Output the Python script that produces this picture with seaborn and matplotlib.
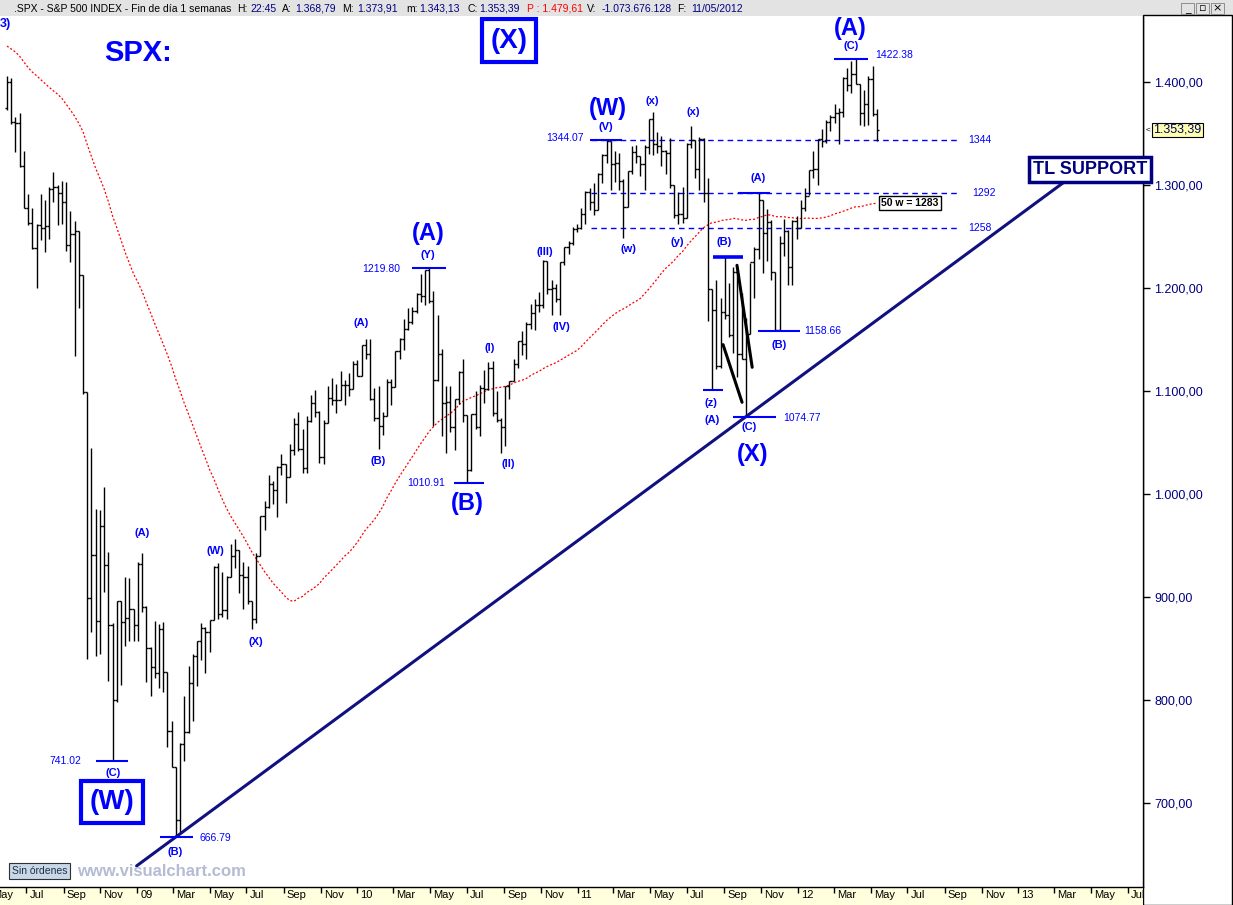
import numpy as np
import pandas as pd
import matplotlib
matplotlib.use("Agg")
import matplotlib.pyplot as plt
import matplotlib.transforms as mtransforms
from matplotlib.patches import Rectangle
import seaborn as sns

# --------------------------
# Data: weekly S&P 500 bars (week ending Friday), first bar = 2008-05-30
# --------------------------
first_week = "2008-05-30"

# 49 weekly closes before the first bar, only used for the 50-week average
pre_close = [1502.56, 1503.35, 1530.44, 1552.50, 1534.10, 1458.95, 1433.06, 1453.64,
             1445.94, 1479.37, 1473.99, 1453.55, 1484.25, 1525.75, 1526.75, 1557.59,
             1561.80, 1500.63, 1535.28, 1509.65, 1453.70, 1458.74, 1440.70, 1481.14,
             1504.66, 1467.95, 1484.46, 1478.49, 1411.63, 1401.02, 1325.19, 1330.61,
             1395.42, 1331.29, 1349.99, 1353.11, 1330.63, 1293.37, 1288.14, 1329.51,
             1315.22, 1370.40, 1332.83, 1390.33, 1397.84, 1413.90, 1388.28, 1425.35,
             1375.93]

opens = [
    # 2008
    1375, 1400, 1361, 1360, 1318, 1278, 1263, 1239, 1261, 1258, 1260, 1296, 1298, 1292, 1283, 1242,
    1252, 1255, 1213, 1099, 899, 941, 877, 969, 931, 873, 800, 896, 876, 880, 888,
    # 2009
    873, 932, 890, 850, 832, 826, 869, 827, 770, 735, 683, 757, 769, 816, 843, 857, 870, 866, 878,
    929, 883, 887, 919, 940, 946, 921, 919, 896, 879, 940, 979, 987, 1010, 1004, 1026, 1029, 1016,
    1043, 1068, 1044, 1025, 1071, 1088, 1080, 1036, 1069, 1093, 1091, 1091, 1106, 1106, 1102, 1126,
    # 2010
    1115, 1145, 1136, 1092, 1074, 1066, 1076, 1109, 1104, 1139, 1150, 1160, 1167, 1178, 1194, 1192,
    1217, 1187, 1111, 1136, 1088, 1089, 1065, 1092, 1118, 1077, 1023, 1078, 1065, 1103, 1102, 1122,
    1079, 1072, 1065, 1105, 1110, 1126, 1149, 1146, 1165, 1176, 1183, 1183, 1226, 1199, 1200, 1189,
    1225, 1240, 1244, 1257,
    # 2011
    1258, 1272, 1293, 1283, 1276, 1311, 1329, 1343, 1320, 1321, 1304, 1279, 1314, 1332, 1328, 1320,
    1337, 1364, 1340, 1338, 1333, 1331, 1300, 1271, 1272, 1268, 1340, 1344, 1316, 1345, 1292, 1199,
    1179, 1124, 1177, 1174, 1154, 1216, 1136, 1131, 1155, 1225, 1238, 1285, 1253, 1264, 1216, 1159,
    1244, 1255, 1220, 1265,
    # 2012
    1258, 1278, 1289, 1315, 1316, 1345, 1343, 1361, 1366, 1370, 1371, 1404, 1397, 1408, 1398, 1370,
    1379, 1403, 1369,
]

highs = [
    1406, 1404, 1366, 1370, 1333, 1291, 1278, 1262, 1291, 1285, 1298, 1313, 1300, 1304, 1303, 1275,
    1265, 1255, 1213, 1099, 1045, 985, 984, 1007, 944, 875, 896, 896, 919, 918, 888,
    934, 943, 891, 851, 877, 874, 876, 827, 780, 735, 758, 804, 833, 845, 857, 875, 871, 878, 930,
    933, 924, 920, 951, 956, 946, 934, 930, 896, 943, 979, 993, 1018, 1013, 1027, 1039, 1029, 1049,
    1074, 1080, 1063, 1076, 1096, 1101, 1081, 1072, 1105, 1113, 1107, 1119, 1111, 1117, 1129, 1130,
    1145, 1150, 1150, 1103, 1105, 1080, 1112, 1112, 1139, 1151, 1170, 1181, 1182, 1195, 1214, 1217,
    1220, 1197, 1174, 1141, 1105, 1105, 1092, 1119, 1131, 1077, 1078, 1100, 1106, 1120, 1128, 1129,
    1100, 1074, 1105, 1110, 1131, 1149, 1158, 1167, 1184, 1189, 1196, 1227, 1226, 1208, 1204, 1225,
    1240, 1246, 1259, 1262,
    1278, 1294, 1297, 1302, 1312, 1330, 1344, 1343, 1333, 1331, 1306, 1314, 1338, 1339, 1328, 1339,
    1364, 1371, 1351, 1348, 1334, 1346, 1300, 1293, 1298, 1341, 1357, 1344, 1347, 1346, 1307, 1199,
    1208, 1190, 1231, 1205, 1220, 1220, 1195, 1171, 1224, 1240, 1293, 1285, 1277, 1266, 1216, 1250,
    1267, 1256, 1266, 1270,
    1285, 1297, 1315, 1333, 1345, 1354, 1363, 1368, 1379, 1375, 1405, 1414, 1420, 1422, 1398, 1392,
    1406, 1416, 1374,
]

lows = [
    1373, 1359, 1332, 1317, 1278, 1261, 1238, 1200, 1247, 1235, 1248, 1283, 1261, 1262, 1236, 1225,
    1134, 1181, 1097, 840, 866, 843, 845, 905, 818, 741, 798, 815, 852, 857, 857,
    857, 885, 817, 804, 821, 812, 808, 754, 735, 667, 672, 741, 768, 780, 814, 839, 826, 847, 878,
    879, 881, 879, 919, 928, 904, 888, 893, 869, 875, 940, 965, 986, 990, 978, 1018, 991, 1016,
    1038, 1042, 1020, 1020, 1070, 1075, 1030, 1029, 1069, 1086, 1079, 1091, 1086, 1095, 1102, 1115,
    1115, 1131, 1091, 1071, 1044, 1057, 1076, 1086, 1104, 1131, 1140, 1159, 1165, 1176, 1186, 1183,
    1185, 1066, 1110, 1056, 1040, 1060, 1043, 1087, 1070, 1011, 1022, 1063, 1056, 1088, 1101, 1076,
    1070, 1040, 1047, 1092, 1110, 1122, 1135, 1131, 1160, 1159, 1177, 1181, 1194, 1174, 1186, 1174,
    1222, 1233, 1242, 1254,
    1257, 1262, 1276, 1271, 1276, 1302, 1321, 1295, 1303, 1295, 1249, 1279, 1311, 1321, 1309, 1295,
    1330, 1329, 1331, 1318, 1311, 1297, 1268, 1262, 1263, 1268, 1336, 1307, 1295, 1283, 1168, 1102,
    1121, 1122, 1170, 1152, 1137, 1114, 1131, 1075, 1155, 1190, 1228, 1215, 1226, 1208, 1159, 1159,
    1231, 1203, 1203, 1248,
    1258, 1275, 1290, 1307, 1300, 1337, 1341, 1352, 1360, 1340, 1366, 1391, 1389, 1398, 1358, 1357,
    1358, 1367, 1343,
]

closes = [
    1400, 1361, 1360, 1318, 1278, 1263, 1239, 1261, 1258, 1260, 1296, 1298, 1292, 1283, 1242, 1252,
    1255, 1213, 1099, 899, 941, 877, 969, 931, 873, 800, 896, 876, 880, 888, 873,
    932, 890, 850, 832, 826, 869, 827, 770, 735, 683, 757, 769, 816, 843, 857, 870, 866, 878, 929,
    883, 887, 919, 940, 946, 921, 919, 896, 879, 940, 979, 987, 1010, 1004, 1026, 1029, 1016, 1043,
    1068, 1044, 1025, 1071, 1088, 1080, 1036, 1069, 1093, 1091, 1091, 1106, 1106, 1102, 1126, 1115,
    1145, 1136, 1092, 1074, 1066, 1076, 1109, 1104, 1139, 1150, 1160, 1167, 1178, 1194, 1192, 1217,
    1187, 1111, 1136, 1088, 1089, 1065, 1092, 1118, 1077, 1023, 1078, 1065, 1103, 1102, 1122, 1079,
    1072, 1065, 1105, 1110, 1126, 1149, 1146, 1165, 1176, 1183, 1183, 1226, 1199, 1200, 1189, 1225,
    1240, 1244, 1257, 1258,
    1272, 1293, 1283, 1276, 1311, 1329, 1343, 1320, 1321, 1304, 1279, 1314, 1332, 1328, 1320, 1337,
    1364, 1340, 1338, 1333, 1331, 1300, 1271, 1272, 1268, 1340, 1344, 1316, 1345, 1292, 1199, 1179,
    1124, 1177, 1174, 1154, 1216, 1136, 1131, 1155, 1225, 1238, 1285, 1253, 1264, 1216, 1159, 1244,
    1255, 1220, 1265, 1258,
    1278, 1289, 1315, 1316, 1345, 1343, 1361, 1366, 1370, 1371, 1404, 1397, 1408, 1398, 1370, 1379,
    1403, 1369, 1353.39,
]

# support / resistance levels
levels = [1344, 1292, 1258]

# pivot markers: (start week, end week, price)
pivots = [
    (21.1, 28.7, 741.02),
    (36.2, 44.1, 666.79),
    (95.9, 104.0, 1219.80),
    (105.9, 113.0, 1010.91),
    (138.1, 145.7, 1344.07),
    (172.0, 182.1, 1074.77),
    (177.9, 187.8, 1158.66),
    (195.9, 203.9, 1422.38),
    (164.9, 169.6, 1101.0),
    (173.1, 180.7, 1292.0),
]

# wave labels: (week, price, text)
small_waves = [
    (32.0, 962, "(A)"), (49.3, 945, "(W)"), (59.0, 856, "(X)"), (83.8, 1166, "(A)"),
    (87.9, 1032, "(B)"), (114.4, 1142, "(I)"), (118.7, 1029, "(II)"), (127.4, 1235, "(III)"),
    (131.2, 1162, "(IV)"), (147.1, 1238, "(w)"), (152.8, 1382, "(x)"), (158.7, 1245, "(y)"),
    (162.5, 1371, "(x)"), (141.9, 1356, "(V)"), (99.7, 1232, "(Y)"), (25.1, 729, "(C)"),
    (39.8, 652, "(B)"), (166.7, 1088, "(z)"), (167.0, 1072, "(A)"), (169.8, 1245, "(B)"),
    (177.9, 1307, "(A)"), (175.8, 1065, "(C)"), (182.9, 1145, "(B)"), (199.9, 1435, "(C)"),
]
big_waves = [
    (142.4, 1374, "(W)"), (99.7, 1253, "(A)"), (109.0, 991, "(B)"),
    (176.5, 1038, "(X)"), (199.7, 1452, "(A)"),
]

# --------------------------
# Figure
# --------------------------
sns.set_theme(style="white")
plt.rcParams["font.family"] = ["Liberation Sans", "DejaVu Sans"]

W, H = 1233, 905
PXW = 4.222            # pixels per week
BLUE = "#0000FF"
NAVY = "#000080"

fig = plt.figure(figsize=(W / 100, H / 100), dpi=100)
fig.patch.set_facecolor("white")


def fx(x):
    return x / W


def fy(y):
    return 1 - y / H


# window chrome
fig.add_artist(Rectangle((0, fy(16)), 1, 16 / H, transform=fig.transFigure,
                         facecolor="#E3E3E3", edgecolor="none", zorder=0))
fig.add_artist(Rectangle((fx(1143), 0), 89 / W, fy(15), transform=fig.transFigure,
                         facecolor="white", edgecolor="black", lw=1, zorder=0))
fig.add_artist(Rectangle((0, 0), fx(1143), 18 / H, transform=fig.transFigure,
                         facecolor="#FFFFDD", edgecolor="none", zorder=0))

ax = fig.add_axes([0, 18 / H, fx(1143), 870 / H])
ax.set_facecolor("white")

n = len(closes)
weeks = np.arange(n)
dates = pd.date_range(first_week, periods=n, freq="W-FRI")

# OHLC bars
ax.vlines(weeks, lows, highs, color="black", lw=1.0, zorder=3)
ax.hlines(opens, weeks - 0.5, weeks, color="black", lw=1.0, zorder=3)
ax.hlines(closes, weeks, weeks + 0.5, color="black", lw=1.0, zorder=3)

# 50-week moving average
all_close = pd.Series(pre_close + closes)
ma50 = all_close.rolling(50).mean().iloc[len(pre_close):].to_numpy()
sns.lineplot(x=weeks, y=ma50, ax=ax, color="red", lw=0.9,
             linestyle=(0, (1.6, 1.6)), zorder=2)

# levels
ax.hlines(levels, 138.3, 225.8, colors=BLUE, linestyles=(0, (4, 3)), lw=1.0, zorder=2)
for lv, dx in zip(levels, [227.6, 228.6, 227.6]):
    ax.text(dx, lv, str(lv), color=BLUE, fontsize=7.5, ha="left", va="center")

# trend line through the two major lows
i1, p1 = 40, min(lows)
i2, p2 = 175, lows[175]
slope = (p2 - p1) / (i2 - i1)
tx = np.array([30.7, 250.4])
ax.plot(tx, p1 + slope * (tx - i1), color="#101080", lw=2.2, zorder=4)

# hand-drawn black lines
ax.plot([169.6, 174.1], [1145, 1089], color="black", lw=2.2, zorder=4)
ax.plot([172.9, 176.5], [1222, 1123], color="black", lw=2.2, zorder=4)

# pivot markers
for a, b, p in pivots:
    ax.hlines(p, a, b, colors=BLUE, lw=1.5, zorder=4)
ax.hlines(1230, 167.2, 174.3, colors=BLUE, lw=2.6, zorder=4)

ax.text(17.5, 741, "741.02", color=BLUE, fontsize=7.5, ha="right", va="center")
ax.text(45.7, 666, "666.79", color=BLUE, fontsize=7.5, ha="left", va="center")
ax.text(93.1, 1218, "1219.80", color=BLUE, fontsize=7.5, ha="right", va="center")
ax.text(103.7, 1011, "1010.91", color=BLUE, fontsize=7.5, ha="right", va="center")
ax.text(136.7, 1346, "1344.07", color=BLUE, fontsize=7.5, ha="right", va="center")
ax.text(183.8, 1074, "1074.77", color=BLUE, fontsize=7.5, ha="left", va="center")
ax.text(188.8, 1158, "1158.66", color=BLUE, fontsize=7.5, ha="left", va="center")
ax.text(205.6, 1426, "1422.38", color=BLUE, fontsize=7.5, ha="left", va="center")

for wk, p, t in small_waves:
    ax.text(wk, p, t, color=BLUE, fontsize=8, fontweight="bold", ha="center", va="center")
for wk, p, t in big_waves:
    ax.text(wk, p, t, color=BLUE, fontsize=17, fontweight="bold", ha="center", va="center")

ax.text(31.0, 1428, "SPX:", color=BLUE, fontsize=21, fontweight="bold", ha="center", va="center")
box = dict(boxstyle="square,pad=0.3", facecolor="white", edgecolor=BLUE, lw=3)
ax.text(118.9, 1440, "(X)", color=BLUE, fontsize=20, fontweight="bold",
        ha="center", va="center", bbox=box)
ax.text(24.9, 701, "(W)", color=BLUE, fontsize=20, fontweight="bold",
        ha="center", va="center", bbox=box)
ax.text(-1.6, 1456, "3)", color=BLUE, fontsize=9, fontweight="bold", ha="left", va="center")

ax.text(256.5, 1315, "TL SUPPORT", color=NAVY, fontsize=13, fontweight="bold",
        ha="center", va="center", clip_on=False, zorder=6,
        bbox=dict(boxstyle="square,pad=0.2", facecolor="white", edgecolor=NAVY, lw=2.5))
ax.text(213.9, 1282.5, "50 w = 1283", color="black", fontsize=7.5, fontweight="bold",
        ha="center", va="center",
        bbox=dict(boxstyle="square,pad=0.2", facecolor="white", edgecolor="black", lw=1))

# axes ranges
ax.set_xlim(-7 / PXW, (1143 - 7) / PXW)
ax.set_ylim(618.4, 1463.1)

# y axis on the right
ax.yaxis.tick_right()
yt = np.arange(700, 1401, 100)
ax.set_yticks(yt)
ax.set_yticklabels([f"{v:,.2f}".replace(",", "X").replace(".", ",").replace("X", ".") for v in yt])
ax.tick_params(axis="y", right=True, direction="out", length=5, width=1, color="black",
               pad=3, labelsize=9, labelcolor=NAVY)

# x axis: month ticks every two months
months = pd.date_range("2008-05-01", "2013-07-01", freq="2MS")
d0 = dates[0]
mpos = np.array([(m - d0).days / 7 for m in months])
mlab = [m.strftime("%y") if m.month == 1 else m.strftime("%b") for m in months]
inside = (mpos > ax.get_xlim()[0]) & (mpos < ax.get_xlim()[1])
ax.set_xticks(mpos[inside])
ax.tick_params(axis="x", bottom=True, direction="out", length=4, width=1,
               color="black", labelbottom=False)
trans = mtransforms.offset_copy(ax.get_xaxis_transform(), fig=fig, x=3, y=-3, units="dots")
for p, lab in zip(mpos, mlab):
    ax.text(p, 0, lab, transform=trans, fontsize=8, ha="left", va="top",
            color="black", clip_on=False)

for side in ["top", "left"]:
    ax.spines[side].set_visible(False)
for side in ["right", "bottom"]:
    ax.spines[side].set_color("black")
    ax.spines[side].set_linewidth(1)
ax.grid(False)

# last price tag
last_tr = mtransforms.blended_transform_factory(ax.transAxes, ax.transData)
ax.text(1 + 10 / 1143, closes[-1], "1.353,39", transform=last_tr, fontsize=9,
        color="#000060", ha="left", va="center", clip_on=False,
        bbox=dict(boxstyle="square,pad=0.1", facecolor="#FFFFB0", edgecolor="black", lw=0.8))
ax.text(1 + 3 / 1143, closes[-1], "<", transform=last_tr, fontsize=6,
        color="black", ha="left", va="center", clip_on=False)

# header line
header = [
    (14, ".SPX - S&P 500 INDEX - Fin de día 1 semanas", "black"),
    (237, "H:", "black"), (250, "22:45", NAVY),
    (282, "A:", "black"), (295, "1.368,79", NAVY),
    (342, "M:", "black"), (357, "1.373,91", NAVY),
    (406, "m:", "black"), (419, "1.343,13", NAVY),
    (467, "C:", "black"), (479, "1.353,39", NAVY),
    (527, "P : 1.479,61", "red"),
    (587, "V:", "black"), (602, "-1.073.676.128", NAVY),
    (677, "F:", "black"), (691, "11/05/2012", NAVY),
]
for x, s, c in header:
    fig.text(fx(x), fy(8.5), s, color=c, fontsize=7.5, ha="left", va="center")

for x, s in [(1181, "_"), (1196, "▫"), (1211, "×")]:
    fig.add_artist(Rectangle((fx(x), fy(14)), 13 / W, 11 / H, transform=fig.transFigure,
                             facecolor="#E3E3E3", edgecolor="#808080", lw=0.6))
    fig.text(fx(x + 6.5), fy(8.5), s, fontsize=8, ha="center", va="center",
             family="DejaVu Sans", color="black")

# footer
fig.text(fx(12), fy(871), "Sin órdenes", fontsize=7.5, color="#203040", ha="left", va="center",
         bbox=dict(boxstyle="square,pad=0.25", facecolor="#C8D8E8", edgecolor="#303030", lw=0.8))
fig.text(fx(77), fy(871), "www.visualchart.com", fontsize=12, fontweight="bold",
         color="#B4BCD4", ha="left", va="center")

plt.savefig("out.png", dpi=100)
plt.close()
